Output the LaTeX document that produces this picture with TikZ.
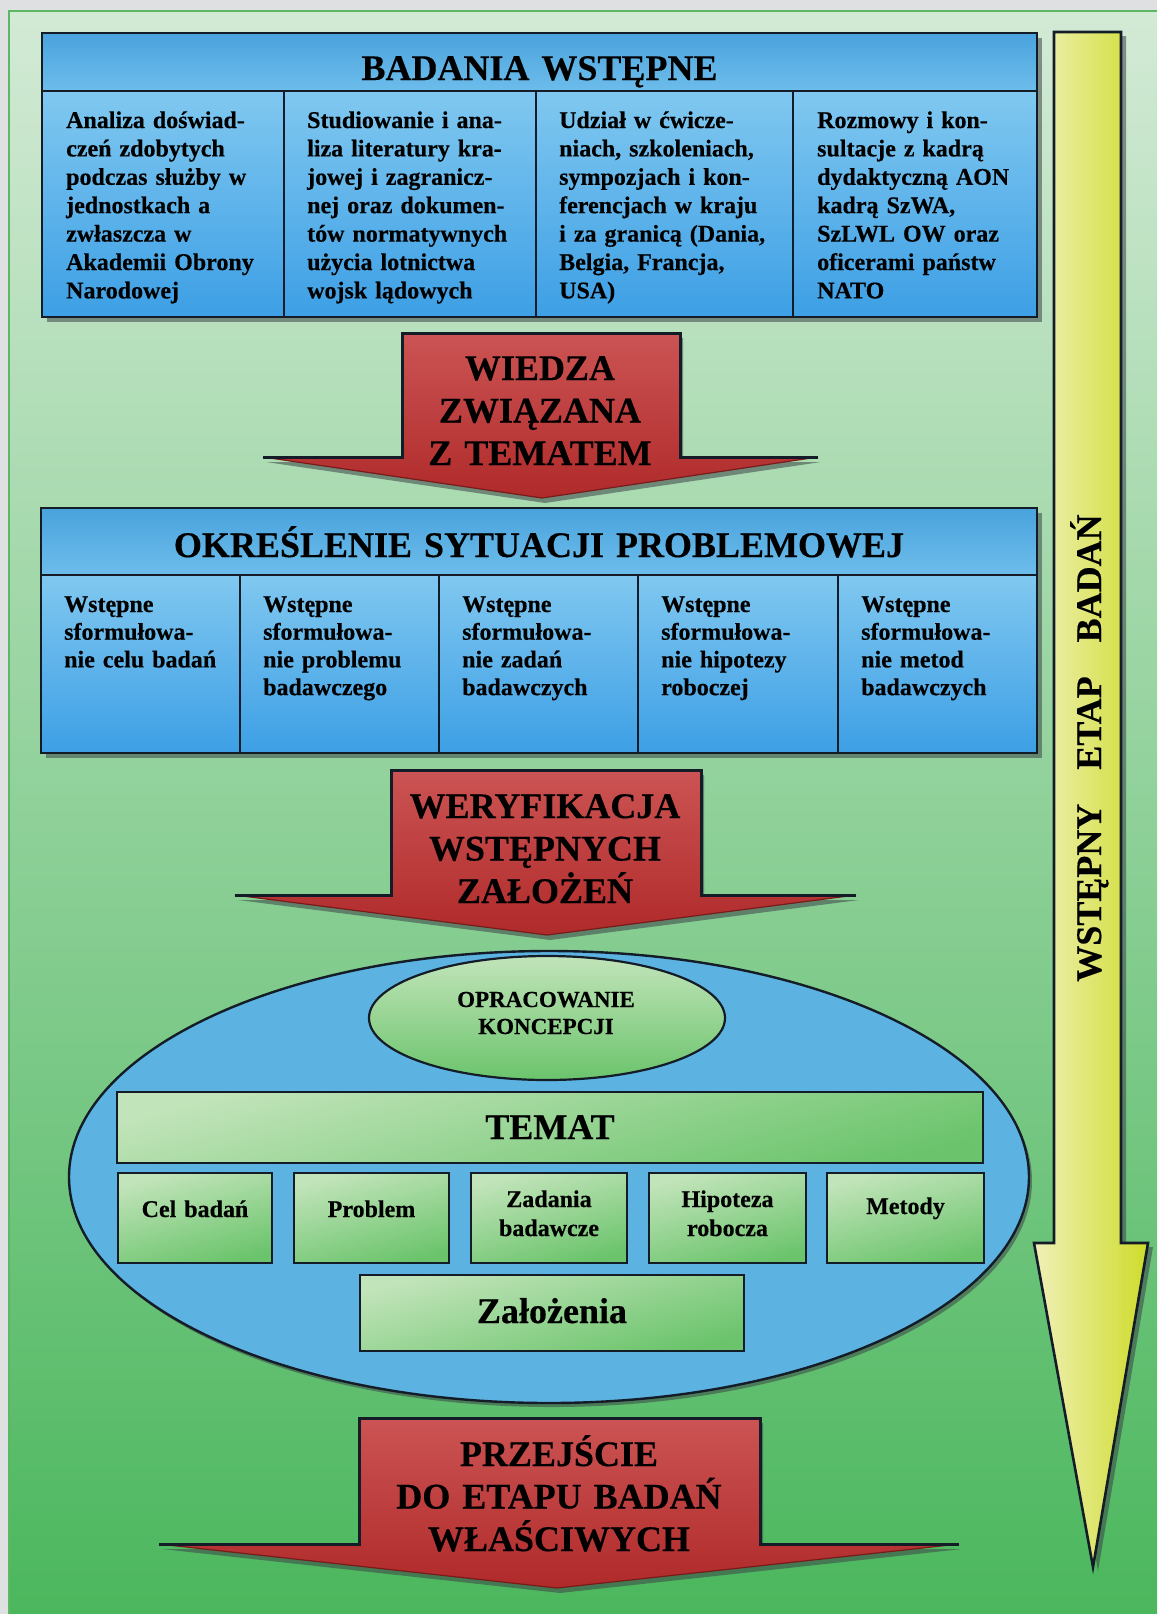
\documentclass[tikz,border=0pt]{standalone}
\usepackage{fontspec}
\setmainfont{Liberation Serif}[BoldFeatures={FakeBold=0.4}]

\definecolor{pagegray}{HTML}{DEE0E1}
\definecolor{bgtop}{HTML}{D3EAD5}
\definecolor{bgbot}{HTML}{4BB75D}
\definecolor{bgedge}{HTML}{5DB865}
\definecolor{edge}{HTML}{141C28}
\definecolor{shadowgray}{HTML}{3C4448}
\definecolor{bandtop}{HTML}{4AA3DD}
\definecolor{bandbot}{HTML}{6DBDEB}
\definecolor{celltop}{HTML}{80C8F0}
\definecolor{cellbot}{HTML}{3D9FE5}
\definecolor{ovalblue}{HTML}{5CB3E2}
\definecolor{greentop}{HTML}{C2E4BA}
\definecolor{greenbot}{HTML}{6BC46C}
\definecolor{redtop}{HTML}{CC5454}
\definecolor{redbot}{HTML}{B02A2A}
\definecolor{reddark}{HTML}{7A1A1A}
\definecolor{yellowleft}{HTML}{F0F0B8}
\definecolor{yellowright}{HTML}{CEDC2A}

% Red block arrow pointing down:
% #1 shaft left, #2 shaft right, #3 top, #4 wing level,
% #5 left wing tip, #6 right wing tip, #7 tip x, #8 tip y
\newcommand{\redblockarrow}[8]{%
  \fill[shadowgray,opacity=.55,shift={(3,5)}]
    (#1,#3) -- (#2,#3) -- (#2,#4) -- (#6,#4) -- (#7,#8) -- (#5,#4) -- (#1,#4) -- cycle;
  \shade[top color=redtop,bottom color=redbot]
    (#1,#3) -- (#2,#3) -- (#2,#4) -- (#6,#4) -- (#7,#8) -- (#5,#4) -- (#1,#4) -- cycle;
  \draw[reddark,line width=1.2pt,line join=round] (#6,#4) -- (#7,#8) -- (#5,#4);
  \draw[edge,line width=3pt,line join=miter]
    (#5,#4) -- (#1,#4) -- (#1,#3) -- (#2,#3) -- (#2,#4) -- (#6,#4);
}

\begin{document}
\begin{tikzpicture}[x=1pt,y=-1pt,
  boxline/.style={draw=edge,line width=2.4pt},
  softshadow/.style={fill=shadowgray,opacity=.55},
  headtxt/.style={font=\bfseries\fontsize{36}{42.5}\selectfont,inner sep=0pt,
    anchor=base,text width=1000pt,align=center},
  bodytxt/.style={font=\bfseries\fontsize{24}{28.4}\selectfont,inner sep=0pt,
    anchor=base west,text width=235pt,align=left},
  probtxt/.style={font=\bfseries\fontsize{24}{27.7}\selectfont,inner sep=0pt,
    anchor=base west,text width=190pt,align=left},
  celltxt/.style={font=\bfseries\fontsize{24}{29}\selectfont,inner sep=0pt,
    anchor=base,text width=150pt,align=center},
  greenbox/.style={top color=greentop,bottom color=greenbot,shading angle=15}
]
\useasboundingbox (0,0) rectangle (1157,1614);

% page and background
\fill[pagegray] (0,0) rectangle (1157,1614);
\shade[shading angle=40,top color=bgtop,bottom color=bgbot] (9,11) rectangle (1157,1614);
\draw[bgedge,line width=1.5pt] (9,1614) -- (9,11) -- (1157,11);

% ---------- BADANIA WSTĘPNE ----------
\fill[softshadow] (47,38) rectangle (1042,322);
\shade[top color=bandtop,bottom color=bandbot] (42,33) rectangle (1037,91);
\shade[top color=celltop,bottom color=cellbot] (42,91) rectangle (1037,317);
\draw[boxline] (42,33) rectangle (1037,317);
\draw[boxline] (42,91) -- (1037,91);
\foreach \xd in {284,536,793} \draw[boxline] (\xd,91) -- (\xd,317);

\node[headtxt] (bw) at (539.5,80) {BADANIA WSTĘPNE};
\node[bodytxt] (bw1) at (66,128) {Analiza doświad-\\czeń zdobytych\\podczas służby w\\jednostkach a\\zwłaszcza w\\Akademii Obrony\\Narodowej};
\node[bodytxt] (bw2) at (307,128) {Studiowanie i ana-\\liza literatury kra-\\jowej i zagranicz-\\nej oraz dokumen-\\tów normatywnych\\użycia lotnictwa\\wojsk lądowych};
\node[bodytxt] (bw3) at (559,128) {Udział w ćwicze-\\niach, szkoleniach,\\sympozjach i kon-\\ferencjach w kraju\\i za granicą (Dania,\\Belgia, Francja,\\USA)};
\node[bodytxt] (bw4) at (817,128) {Rozmowy i kon-\\sultacje z kadrą\\dydaktyczną AON\\kadrą SzWA,\\SzLWL OW oraz\\oficerami państw\\NATO};

% ---------- arrow 1 ----------
\redblockarrow{402}{680}{333}{457}{263}{818}{542}{498}
\node[headtxt] (wiedza) at (540,380) {WIEDZA\\ZWIĄZANA\\Z TEMATEM};

% ---------- OKREŚLENIE SYTUACJI PROBLEMOWEJ ----------
\fill[softshadow] (46,513) rectangle (1042,758);
\shade[top color=bandtop,bottom color=bandbot] (41,508) rectangle (1037,575);
\shade[top color=celltop,bottom color=cellbot] (41,575) rectangle (1037,753);
\draw[boxline] (41,508) rectangle (1037,753);
\draw[boxline] (41,575) -- (1037,575);
\foreach \xd in {240,439,638,838} \draw[boxline] (\xd,575) -- (\xd,753);

\node[headtxt] (osp) at (539,557) {OKREŚLENIE SYTUACJI PROBLEMOWEJ};
\node[probtxt] (osp1) at (64,612) {Wstępne\\sformułowa-\\nie celu badań};
\node[probtxt] (osp2) at (263,612) {Wstępne\\sformułowa-\\nie problemu\\badawczego};
\node[probtxt] (osp3) at (462,612) {Wstępne\\sformułowa-\\nie zadań\\badawczych};
\node[probtxt] (osp4) at (661,612) {Wstępne\\sformułowa-\\nie hipotezy\\roboczej};
\node[probtxt] (osp5) at (861,612) {Wstępne\\sformułowa-\\nie metod\\badawczych};

% ---------- arrow 2 ----------
\redblockarrow{391}{701}{770}{895}{235}{856}{547}{935}
\node[headtxt] (weryf) at (545,818) {WERYFIKACJA\\WSTĘPNYCH\\ZAŁOŻEŃ};

% ---------- concept ellipse ----------
\fill[softshadow] (552,1181) ellipse [x radius=480,y radius=226];
\fill[ovalblue] (549,1177) ellipse [x radius=480,y radius=226];
\draw[edge,line width=2.4pt] (549,1177) ellipse [x radius=480,y radius=226];

\shade[top color=greentop,bottom color=greenbot] (547,1018) ellipse [x radius=178,y radius=62];
\draw[edge,line width=2.2pt] (547,1018) ellipse [x radius=178,y radius=62];
\node[celltxt,text width=300pt,font=\bfseries\fontsize{23}{27}\selectfont] (konc) at (546,1007) {OPRACOWANIE\\KONCEPCJI};

\shade[greenbox] (117,1092) rectangle (983,1163);
\draw[boxline] (117,1092) rectangle (983,1163);
\node[headtxt] (temat) at (550,1139) {TEMAT};

\foreach \xa/\xb in {118/272,294/449,471/627,649/806,827/984}{
  \shade[greenbox] (\xa,1173) rectangle (\xb,1263);
  \draw[boxline] (\xa,1173) rectangle (\xb,1263);
}
\node[celltxt] (cel) at (195,1217) {Cel badań};
\node[celltxt] (prob) at (371.5,1217) {Problem};
\node[celltxt] (zad) at (549,1207) {Zadania\\badawcze};
\node[celltxt] (hip) at (727.5,1207) {Hipoteza\\robocza};
\node[celltxt] (met) at (905.5,1214) {Metody};

\shade[greenbox] (360,1275) rectangle (744,1351);
\draw[boxline] (360,1275) rectangle (744,1351);
\node[headtxt] (zal) at (552,1323) {Założenia};

% ---------- arrow 3 ----------
\redblockarrow{359}{760}{1418}{1544}{159}{959}{557}{1588}
\node[headtxt] (przej) at (559,1466) {PRZEJŚCIE\\DO ETAPU BADAŃ\\WŁAŚCIWYCH};

% ---------- yellow stage arrow ----------
\fill[softshadow,shift={(5,4)}] (1054,32) -- (1121,32) -- (1121,1243) -- (1148,1243)
  -- (1093,1567) -- (1034,1243) -- (1054,1243) -- cycle;
\shade[left color=yellowleft,right color=yellowright] (1054,32) -- (1121,32) -- (1121,1243)
  -- (1148,1243) -- (1093,1567) -- (1034,1243) -- (1054,1243) -- cycle;
\draw[edge,line width=2.6pt,line join=miter] (1054,32) -- (1121,32) -- (1121,1243)
  -- (1148,1243) -- (1093,1567) -- (1034,1243) -- (1054,1243) -- cycle;
\node[rotate=90,anchor=base,inner sep=0pt,font=\bfseries\fontsize{36}{42}\selectfont]
  (etap) at (1101,748) {WSTĘPNY\hspace{34pt}ETAP\hspace{34pt}BADAŃ};

\end{tikzpicture}
\end{document}
